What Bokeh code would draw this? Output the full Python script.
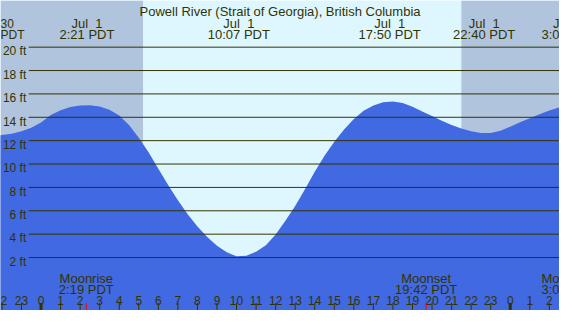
from bokeh.plotting import figure
from bokeh.models import Range1d, BoxAnnotation
from bokeh.core.properties import value
from bokeh.embed import file_html
from bokeh.resources import INLINE

# ---------------- data ----------------
title = "Powell River (Strait of Georgia), British Columbia"

tide_hours = [i / 2 for i in range(-5, 55)]
tide_ft = [12.43, 12.48, 12.60, 12.80, 13.10, 13.55, 14.20, 14.60, 14.87, 15.00,
           15.03, 14.92, 14.65, 14.15, 13.35, 12.25, 11.00, 9.60, 8.20, 6.90,
           5.70, 4.65, 3.75, 3.00, 2.45, 2.10, 2.15, 2.50, 3.05, 3.97,
           5.15, 6.40, 7.85, 9.35, 10.70, 11.90, 12.95, 13.85, 14.55, 15.00,
           15.28, 15.35, 15.22, 14.90, 14.50, 14.10, 13.70, 13.35, 13.05, 12.80,
           12.66, 12.66, 12.85, 13.20, 13.58, 13.92, 14.27, 14.58, 14.85, 15.00]

event_dates = ["Jun 30", "Jul\u00a0 1", "Jul\u00a0 1", "Jul\u00a0 1", "Jul\u00a0 1", "Jul\u00a0 2"]
event_times = ["21:33", "2:21", "10:07", "17:50", "22:40", "3:06"]
event_day = [-1, 0, 0, 0, 0, 1]

moon_names = ["Moonrise", "Moonset", "Moonrise"]
moon_times = ["2:19", "19:42", "3:07"]
moon_day = [0, 0, 1]

sunrise = "5:13"
sunset = "21:30"

ft_levels = [2, 4, 6, 8, 10, 12, 14, 16, 18, 20]
ft_labels = [f"{v} ft" for v in ft_levels]
hour_ticks = list(range(-2, 27))
hour_labels = [str(h % 24) for h in hour_ticks]

NIGHT = "#B0C4DE"
DAY = "#DEF7FF"
WATER = "#4169E1"
TXT = "#333300"
FONT = value("Liberation Sans")


def to_h(t, day=0):
    hh, mm = t.split(":")
    return day * 24 + int(hh) + int(mm) / 60


# reference pixel -> data helpers (layout only)
def hx(px):
    return (px - 41.7) / 20.11


def fy(px):
    return 2 + (270.3 - px) / 12.29


X0, X1 = hx(0), hx(575)
Y0, Y1 = fy(326), fy(0)

p = figure(width=559, height=310, x_range=Range1d(X0, X1), y_range=Range1d(Y0, Y1),
           output_backend="svg", toolbar_location=None, min_border=0,
           x_axis_location=None, y_axis_location=None,
           background_fill_color=DAY, border_fill_color=DAY, outline_line_color=None)
p.grid.visible = False

p.add_layout(BoxAnnotation(right=to_h(sunrise), fill_color=NIGHT, fill_alpha=1,
                           line_color=None, level="underlay"))
p.add_layout(BoxAnnotation(left=to_h(sunset), fill_color=NIGHT, fill_alpha=1,
                           line_color=None, level="underlay"))

p.varea(x=tide_hours, y1=Y0, y2=tide_ft, fill_color=WATER, fill_alpha=1)

p.segment(x0=[hx(29)] * len(ft_levels), x1=[X1] * len(ft_levels),
          y0=ft_levels, y1=ft_levels, line_color=TXT, line_width=1)


def txt(x, y, t, size="13px", align="center"):
    p.text(x=x, y=y, text=t, text_font=FONT, text_font_size=size, text_color=TXT,
           text_align=align, text_baseline="alphabetic")


txt([hx(26.5)] * len(ft_levels), [v - 4.5 / 12.29 for v in ft_levels], ft_labels, "12px", "right")

# title
txt([hx(287.5)], [fy(12)], [title])

# tide events (inner ones fully shown, edge ones only their visible parts)
ev_h = [to_h(t, d) for t, d in zip(event_times, event_day)]
txt(ev_h[1:-1], [fy(24)] * (len(ev_h) - 2), event_dates[1:-1])
txt(ev_h[1:-1], [fy(36)] * (len(ev_h) - 2), [t + " PDT" for t in event_times[1:-1]])
txt([X0], [fy(24)], [event_dates[0][-2:]], "12px", "left")
txt([X0], [fy(36)], ["PDT"], "12px", "left")
txt([X1], [fy(24)], [event_dates[-1][0]], "13px", "right")
txt([X1], [fy(36)], [event_times[-1][:3]], "13px", "right")

# moon events
mo_h = [to_h(t, d) for t, d in zip(moon_times, moon_day)]
txt(mo_h[:-1], [fy(292)] * (len(mo_h) - 1), moon_names[:-1])
txt(mo_h[:-1], [fy(303.5)] * (len(mo_h) - 1), [t + " PDT" for t in moon_times[:-1]])
txt([X1], [fy(292)], [moon_names[-1][:2]], "13px", "right")
txt([X1], [fy(303.5)], [moon_times[-1][:3]], "13px", "right")

# hour labels and ticks
txt(hour_ticks[1:], [fy(316)] * (len(hour_ticks) - 1), hour_labels[1:], "12px")
txt([X0], [fy(316)], [hour_labels[0][-1]], "12px", "left")
normal = [h for h in hour_ticks if h % 24 != 0]
midnight = [h for h in hour_ticks if h % 24 == 0]
p.segment(x0=normal, x1=normal, y0=[fy(318)] * len(normal), y1=[fy(326)] * len(normal),
          line_color=TXT, line_width=1)
p.segment(x0=midnight, x1=midnight, y0=[fy(318)] * len(midnight), y1=[fy(326)] * len(midnight),
          line_color=TXT, line_width=3)
p.segment(x0=mo_h, x1=mo_h, y0=[fy(318)] * len(mo_h), y1=[fy(326)] * len(mo_h),
          line_color="red", line_width=1)

open("out.html", "w").write(file_html(p, INLINE))
